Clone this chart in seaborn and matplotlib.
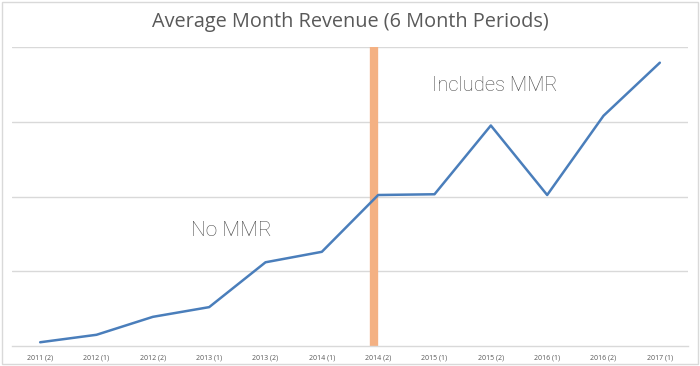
import numpy as np
import pandas as pd
import matplotlib
matplotlib.use("Agg")
import matplotlib.pyplot as plt
import seaborn as sns

# Data (gridline units, no y labels shown)
periods = ['2011 (2)', '2012 (1)', '2012 (2)', '2013 (1)', '2013 (2)', '2014 (1)',
           '2014 (2)', '2015 (1)', '2015 (2)', '2016 (1)', '2016 (2)', '2017 (1)']
revenue = [0.05, 0.15, 0.39, 0.52, 1.12, 1.26, 2.02, 2.03, 2.95, 2.02, 3.08, 3.79]
mmr_start = 5.92  # position of the orange marker between periods

df = pd.DataFrame({'period': periods, 'revenue': revenue})
df['pos'] = np.arange(len(df))

sns.set_style("white")
plt.rcParams['font.family'] = ['Open Sans', 'DejaVu Sans']

fig = plt.figure(figsize=(7, 3.66), dpi=100)
ax = fig.add_axes([12 / 700, 20 / 366, 676 / 700, 299 / 366])

ax.axvline(mmr_start, color='#f4b183', linewidth=6, zorder=2)
sns.lineplot(data=df, x='pos', y='revenue', color='#4a7ebb', linewidth=1.8, ax=ax, zorder=3)

ax.set_xlim(-0.5, len(periods) - 0.5)
ax.set_ylim(0, 4)
ax.set_yticks([1, 2, 3, 4])
ax.yaxis.grid(True, color='#d9d9d9', linewidth=1)
ax.set_yticklabels([])
ax.tick_params(axis='y', length=0)
ax.set_xticks(df['pos'])
ax.set_xticklabels(periods, fontsize=5, color='#595959')
ax.tick_params(axis='x', length=0, pad=6)
ax.set_xlabel('')
ax.set_ylabel('')
for s in ['top', 'left', 'right']:
    ax.spines[s].set_visible(False)
ax.spines['bottom'].set_color('#d9d9d9')
ax.spines['bottom'].set_linewidth(1)

ax.text(3.4, 1.55, 'No MMR', fontsize=15, color='#4d4d4d',
        family=['Roboto', 'DejaVu Sans'], fontweight='light', ha='center', va='center')
ax.text(8.07, 3.48, 'Includes MMR', fontsize=14.5, color='#4d4d4d',
        family=['Roboto', 'DejaVu Sans'], fontweight='light', ha='center', va='center')

fig.text(0.5, 1 - 22 / 366, 'Average Month Revenue (6 Month Periods)', fontsize=14.3,
         color='#595959', ha='center', va='center')

# light frame round the chart area
fig.patches.append(plt.Rectangle((2 / 700, 2 / 366), 696 / 700, 362 / 366, fill=False,
                                 edgecolor='#d9d9d9', linewidth=1, transform=fig.transFigure))

fig.savefig('out.png', dpi=100)
